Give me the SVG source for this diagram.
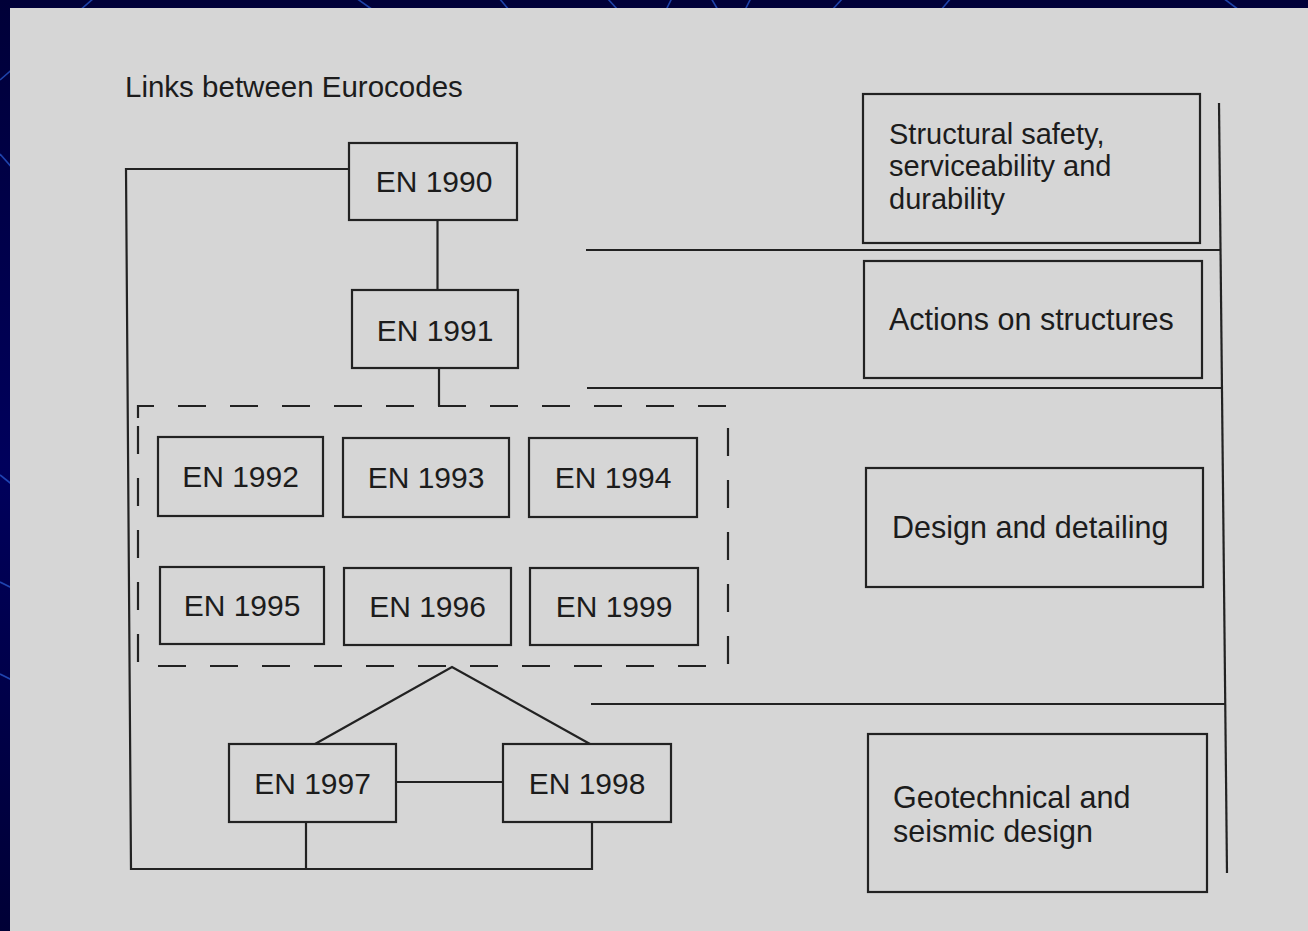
<svg xmlns="http://www.w3.org/2000/svg" width="1308" height="931" viewBox="0 0 1308 931">
<defs>
<linearGradient id="bg" x1="0" y1="0" x2="0" y2="1">
<stop offset="0" stop-color="#000038"/>
<stop offset="0.5" stop-color="#00005c"/>
<stop offset="1" stop-color="#000036"/>
</linearGradient>
<style>
.deco{stroke:#2a5ad0;stroke-width:1.6;opacity:0.75;fill:none}
.box{fill:none;stroke:#222;stroke-width:2.2}
.ln{fill:none;stroke:#222;stroke-width:2.2}
.lbl{font-family:"Liberation Sans",Arial,sans-serif;font-size:30px;fill:#1c1c1c;text-anchor:middle}
.txt{font-family:"Liberation Sans",Arial,sans-serif;font-size:30.5px;fill:#1c1c1c}
.tight{font-size:29px}
</style>
</defs>
<rect x="0" y="0" width="1308" height="931" fill="url(#bg)"/>
<g id="decor">
<line class="deco" x1="0" y1="80" x2="94" y2="-2"/>
<line class="deco" x1="0" y1="154" x2="14" y2="170"/>
<line class="deco" x1="0" y1="475" x2="14" y2="486"/>
<line class="deco" x1="0" y1="582" x2="14" y2="589"/>
<line class="deco" x1="0" y1="674" x2="14" y2="681"/>
<line class="deco" x1="356" y1="-2" x2="373" y2="10"/>
<line class="deco" x1="499" y1="-2" x2="509" y2="10"/>
<line class="deco" x1="607" y1="-2" x2="618" y2="10"/>
<line class="deco" x1="666" y1="10" x2="672" y2="-2"/>
<line class="deco" x1="711" y1="-2" x2="718" y2="10"/>
<line class="deco" x1="745" y1="10" x2="751" y2="-2"/>
<line class="deco" x1="832" y1="10" x2="843" y2="-2"/>
<line class="deco" x1="941" y1="10" x2="951" y2="-2"/>
<line class="deco" x1="1223" y1="-2" x2="1239" y2="10"/>
</g>
<rect x="10" y="8" width="1298" height="923" fill="#d6d6d6"/>
<text class="txt" x="125" y="97" style="font-size:29.5px">Links between Eurocodes</text>
<g id="connectors">
<path class="ln" d="M349,169 L126,169 L131,869 L592,869 L592,822"/>
<path class="ln" d="M306,822 L306,869"/>
<path class="ln" d="M437.5,220 V290"/>
<path class="ln" d="M439,368 V406"/>
<path class="ln" d="M396,782 H503"/>
<path class="ln" d="M315,744 L452,667 L590,744"/>
<path class="ln" d="M586,250 H1221"/>
<path class="ln" d="M587,388 H1222"/>
<path class="ln" d="M591,704 H1225"/>
<path class="ln" d="M1219,103 L1227,873"/>
</g>
<g id="group-design">
<path class="ln" d="M138,418 V406 H728 V666 H138 Z" stroke-dasharray="28 24"/>
</g>
<g id="en1990"><rect class="box" x="349" y="143" width="168" height="77"/><text class="lbl" x="434" y="192">EN 1990</text></g>
<g id="en1991"><rect class="box" x="352" y="290" width="166" height="78"/><text class="lbl" x="435" y="341">EN 1991</text></g>
<g id="en1992"><rect class="box" x="158" y="437" width="165" height="79"/><text class="lbl" x="240.5" y="487">EN 1992</text></g>
<g id="en1993"><rect class="box" x="343" y="438" width="166" height="79"/><text class="lbl" x="426" y="488">EN 1993</text></g>
<g id="en1994"><rect class="box" x="529" y="438" width="168" height="79"/><text class="lbl" x="613" y="488">EN 1994</text></g>
<g id="en1995"><rect class="box" x="160" y="567" width="164" height="77"/><text class="lbl" x="242" y="616">EN 1995</text></g>
<g id="en1996"><rect class="box" x="344" y="568" width="167" height="77"/><text class="lbl" x="427.5" y="617">EN 1996</text></g>
<g id="en1999"><rect class="box" x="530" y="568" width="168" height="77"/><text class="lbl" x="614" y="617">EN 1999</text></g>
<g id="en1997"><rect class="box" x="229" y="744" width="167" height="78"/><text class="lbl" x="312.5" y="794">EN 1997</text></g>
<g id="en1998"><rect class="box" x="503" y="744" width="168" height="78"/><text class="lbl" x="587" y="794">EN 1998</text></g>
<g id="cat-safety"><rect class="box" x="863" y="94" width="337" height="149"/>
<text class="txt tight" x="889" y="144">Structural safety,</text>
<text class="txt tight" x="889" y="176">serviceability and</text>
<text class="txt tight" x="889" y="209">durability</text></g>
<g id="cat-actions"><rect class="box" x="864" y="261" width="338" height="117"/>
<text class="txt" x="889" y="330">Actions on structures</text></g>
<g id="cat-design"><rect class="box" x="866" y="468" width="337" height="119"/>
<text class="txt" x="892" y="538">Design and detailing</text></g>
<g id="cat-geo"><rect class="box" x="868" y="734" width="339" height="158"/>
<text class="txt" x="893" y="808">Geotechnical and</text>
<text class="txt" x="893" y="842">seismic design</text></g>
</svg>
